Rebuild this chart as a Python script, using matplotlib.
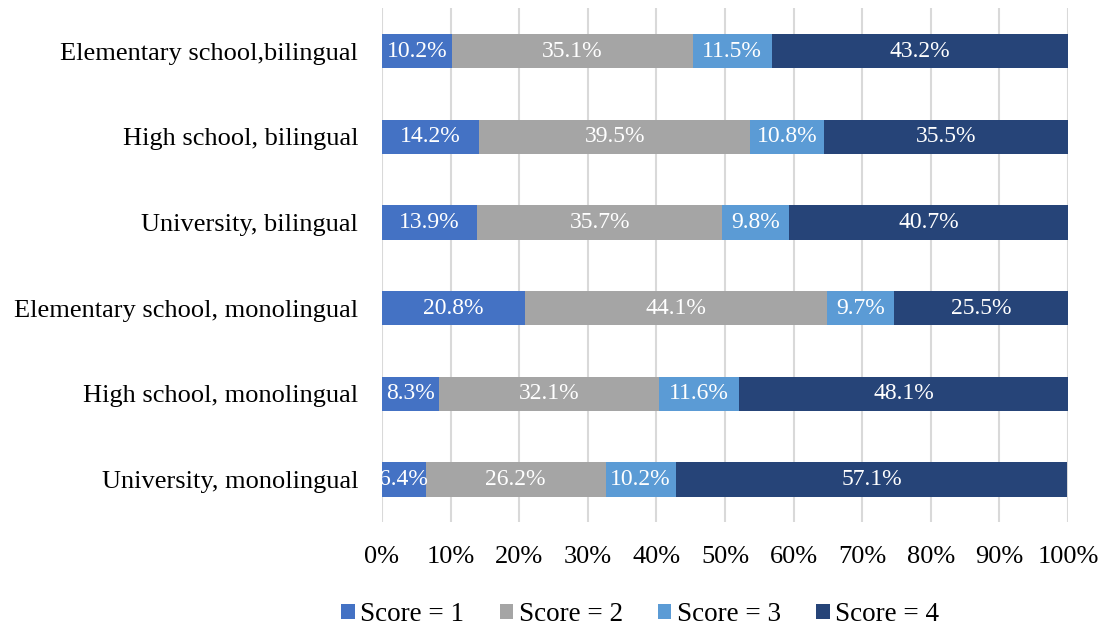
import numpy as np
import matplotlib.pyplot as plt

# Data, top row first
categories = [
    "Elementary school,bilingual",
    "High school, bilingual",
    "University, bilingual",
    "Elementary school, monolingual",
    "High school, monolingual",
    "University, monolingual",
]
score1 = [10.2, 14.2, 13.9, 20.8, 8.3, 6.4]
score2 = [35.1, 39.5, 35.7, 44.1, 32.1, 26.2]
score3 = [11.5, 10.8, 9.8, 9.7, 11.6, 10.2]
score4 = [43.2, 35.5, 40.7, 25.5, 48.1, 57.1]
series_names = ["Score = 1", "Score = 2", "Score = 3", "Score = 4"]
colors = ["#4472C4", "#A5A5A5", "#5B9BD5", "#264478"]

plt.rcParams['font.family'] = ['Liberation Serif', 'DejaVu Serif']


def main():
    fig = plt.figure(figsize=(11.02, 6.3), dpi=100)
    ax = fig.add_axes([0.3466, 0.171, 0.6225, 0.816])

    y = np.arange(len(categories))
    series = [score1, score2, score3, score4]
    left = np.zeros(len(categories))
    for vals, name, col in zip(series, series_names, colors):
        vals = np.array(vals)
        ax.barh(y, vals, left=left, height=0.4, color=col, label=name, zorder=3)
        for yi, l, v in zip(y, left, vals):
            ax.text(l + v / 2, yi, f"{v:.1f}%", ha="center", va="center",
                    color="white", fontsize=17, zorder=4, clip_on=True)
        left = left + vals

    ax.set_xlim(0, 100)
    ax.set_ylim(len(categories) - 0.5, -0.5)
    ax.set_yticks(y)
    ax.set_yticklabels(categories, fontsize=19)
    ax.set_xticks(np.arange(0, 101, 10))
    ax.set_xticklabels([f"{t}%" for t in range(0, 101, 10)], fontsize=19)
    ax.tick_params(axis="both", length=0)
    ax.tick_params(axis="x", pad=17)
    ax.tick_params(axis="y", pad=17)
    ax.xaxis.grid(True, color="#D9D9D9", linewidth=1.5, zorder=0)
    for s in ax.spines.values():
        s.set_visible(False)

    fig.legend(loc="center", bbox_to_anchor=(0.581, 0.024), ncol=4,
               frameon=False, fontsize=19.5, handlelength=0.5, handleheight=0.5,
               handletextpad=0.2, columnspacing=1.3)

    fig.savefig("out.png", dpi=100)


if __name__ == "__main__":
    main()
